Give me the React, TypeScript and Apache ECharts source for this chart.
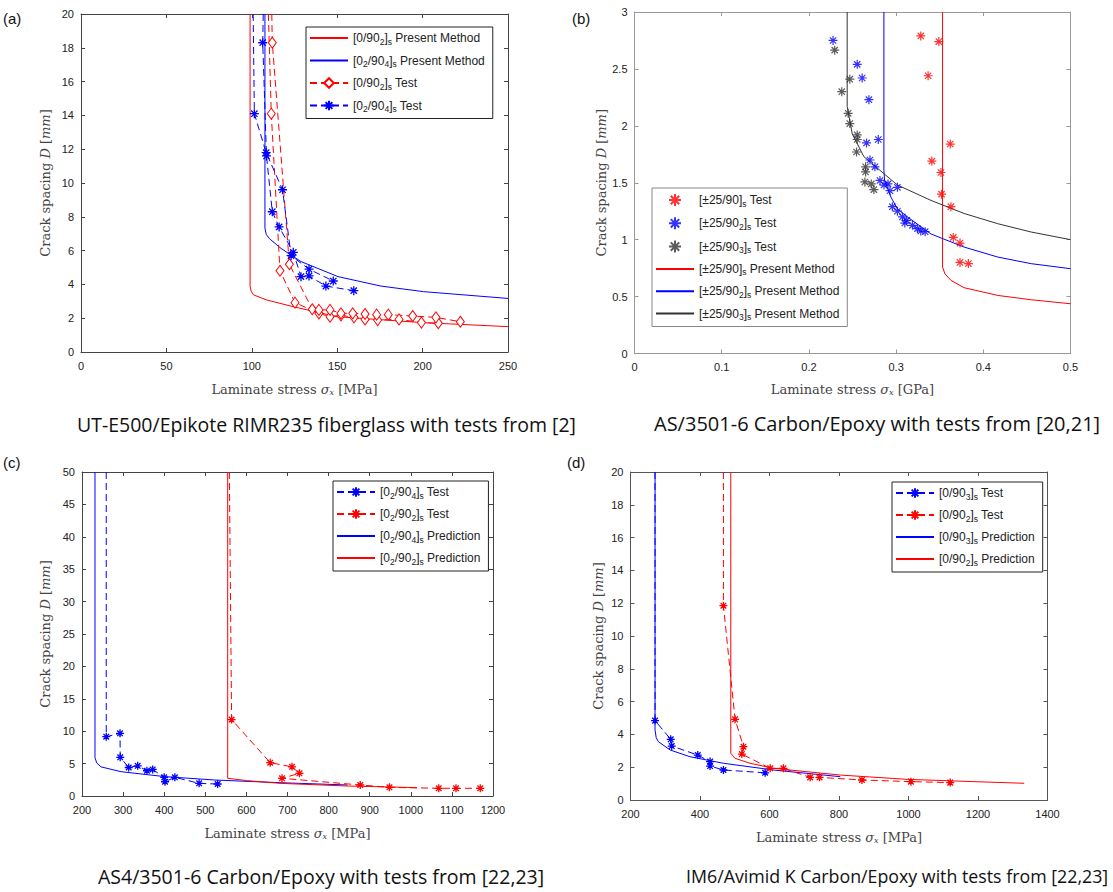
import React, { useEffect, useRef } from "react";
import * as echarts from "echarts";

// ---------- Panel (a) ----------
const aXTicks = [0, 50, 100, 150, 200, 250];
const aYTicks = [0, 2, 4, 6, 8, 10, 12, 14, 16, 18, 20];
const aRedModel = [[99, 20], [99, 3.9], [99.6, 3.6], [101, 3.38], [108.7, 3.08], [124.3, 2.68], [149.8, 2.09], [200, 1.74], [250, 1.5]];
const aBlueModel = [[107.7, 20], [107.7, 7.32], [108.5, 6.95], [110.4, 6.7], [117.1, 6.13], [128.8, 5.35], [150.5, 4.46], [175.6, 3.9], [200.6, 3.57], [250, 3.17]];
const aRedTest1 = [[109.7, 20], [111.4, 14.1], [116.5, 4.81], [125.3, 2.92], [139.3, 2.29], [145.8, 2.09], [152.2, 2.17], [159.8, 2.05], [166.3, 1.93], [173.7, 1.89], [186.2, 1.93], [199.3, 1.74], [209.2, 1.7]];
const aRedTest2 = [[111.7, 20], [112, 18.3], [122, 5.19], [135.4, 2.53], [139.3, 2.49], [145.8, 2.49], [152.2, 2.29], [159.1, 2.29], [166.3, 2.25], [173.1, 2.21], [179.9, 2.21], [194.2, 2.13], [207.8, 2.05], [222.1, 1.79]];
const aBlueTest1 = [[100.8, 20], [101.5, 14.1], [108.4, 11.8], [118, 9.6], [123, 5.7], [133.5, 4.9], [147.7, 4.2]];
const aBlueTest2 = [[106.7, 20], [106.4, 18.3], [108.6, 11.6], [112, 8.3], [116, 7.4], [124.3, 5.9], [128.8, 4.46], [133.5, 4.5], [143.4, 3.9], [159.7, 3.63]];

// ---------- Panel (b) ----------
const bXTicks = [0, 0.1, 0.2, 0.3, 0.4, 0.5];
const bYTicks = [0, 0.5, 1, 1.5, 2, 2.5, 3];
const bRedModel = [[0.3533, 3], [0.3533, 0.76], [0.356, 0.7], [0.363, 0.642], [0.378, 0.578], [0.4167, 0.51], [0.455, 0.472], [0.5, 0.437]];
const bBlueModel = [[0.286, 3], [0.286, 1.61], [0.2868, 1.52], [0.294, 1.375], [0.3015, 1.27], [0.313, 1.2], [0.34, 1.05], [0.378, 0.935], [0.4167, 0.847], [0.455, 0.789], [0.5, 0.745]];
const bBlackModel = [[0.2439, 3], [0.2439, 2.17], [0.2497, 1.93], [0.263, 1.73], [0.286, 1.58], [0.3015, 1.48], [0.34, 1.345], [0.378, 1.23], [0.4167, 1.14], [0.455, 1.067], [0.5, 1.0]];
const bRedTest = [[0.3283, 2.79], [0.349, 2.74], [0.3367, 2.44], [0.3621, 1.84], [0.341, 1.69], [0.3514, 1.59], [0.3521, 1.4], [0.3629, 1.29], [0.3656, 1.02], [0.3733, 0.97], [0.3733, 0.8], [0.3829, 0.79]];
const bBlueTest = [[0.2277, 2.75], [0.2554, 2.54], [0.2611, 2.42], [0.2688, 2.23], [0.2661, 1.85], [0.2796, 1.88], [0.27, 1.7], [0.2757, 1.64], [0.2815, 1.52], [0.2861, 1.48], [0.2907, 1.49], [0.293, 1.43], [0.3015, 1.46], [0.2957, 1.29], [0.3015, 1.25], [0.3072, 1.2], [0.3122, 1.17], [0.31, 1.146], [0.3188, 1.126], [0.3245, 1.097], [0.3283, 1.076], [0.3333, 1.07]];
const bBlackTest = [[0.2296, 2.665], [0.2469, 2.41], [0.2377, 2.3], [0.245, 2.11], [0.2469, 2.02], [0.2554, 1.92], [0.2554, 1.88], [0.2546, 1.77], [0.265, 1.64], [0.265, 1.595], [0.2642, 1.507], [0.2715, 1.49], [0.2745, 1.44]];

// ---------- Panel (c) ----------
const cXTicks = [200, 300, 400, 500, 600, 700, 800, 900, 1000, 1100, 1200];
const cYTicks = [0, 5, 10, 15, 20, 25, 30, 35, 40, 45, 50];
const cBlueModel = [[231.6, 50], [231.6, 5.9], [236, 5.1], [246, 4.5], [295, 3.75], [400, 3.0], [522, 2.47], [684, 2.05], [846, 1.7]];
const cRedModel = [[554.5, 50], [554.5, 2.73], [603, 2.36], [684, 1.95], [846, 1.54], [1015, 1.29]];
const cBlueTest = [[259, 50], [259, 9.15], [292.5, 9.67], [293, 5.97], [313.6, 4.4], [335.5, 4.66], [358, 3.9], [372, 4.1], [400, 2.88], [402, 2.2], [426, 2.88], [485, 1.95], [530, 1.85]];
const cRedTest = [[558.5, 50], [564, 11.8], [658, 5.14], [711, 4.5], [729, 3.5], [686.6, 2.73], [877, 1.7], [948, 1.34], [1068, 1.19], [1110, 1.19], [1169, 1.19]];

// ---------- Panel (d) ----------
const dXTicks = [200, 400, 600, 800, 1000, 1200, 1400];
const dYTicks = [0, 2, 4, 6, 8, 10, 12, 14, 16, 18, 20];
const dBlueModel = [[270.6, 20], [270.6, 4.27], [274, 3.8], [280, 3.56], [314, 3.05], [371, 2.64], [467, 2.24], [611, 1.83], [804, 1.42]];
const dRedModel = [[488.6, 20], [488.6, 2.85], [501, 2.54], [544, 2.24], [611, 1.93], [804, 1.52], [996, 1.26], [1188, 1.12], [1333, 1.02]];
const dBlueTest = [[270.6, 20], [270.6, 4.84], [315.8, 3.7], [318.7, 3.29], [393.6, 2.74], [429, 2.34], [429, 2.07], [467.4, 1.83], [587.5, 1.66]];
const dRedTest = [[467.4, 20], [467.4, 11.85], [501, 4.92], [525, 3.25], [520.4, 2.8], [602, 1.93], [640, 1.93], [717, 1.38], [744, 1.38], [866, 1.22], [1007, 1.12], [1120, 1.06]];

// ---------- Texts ----------
const captions = [
  "UT-E500/Epikote RIMR235 fiberglass with tests from [2]",
  "AS/3501-6 Carbon/Epoxy with tests from [20,21]",
  "AS4/3501-6 Carbon/Epoxy with tests from [22,23]",
  "IM6/Avimid K Carbon/Epoxy with tests from [22,23]",
];
const panelLetters = ["(a)", "(b)", "(c)", "(d)"];
const legendLabels: Record<string, string> = {
  a_pm_r: "[0/90{s|2}]{s|s} Present Method",
  a_pm_b: "[0{s|2}/90{s|4}]{s|s} Present Method",
  a_t_r: "[0/90{s|2}]{s|s} Test",
  a_t_b: "[0{s|2}/90{s|4}]{s|s} Test",
  b_t_r: "[±25/90]{s|s} Test",
  b_t_b: "[±25/90{s|2}]{s|s} Test",
  b_t_k: "[±25/90{s|3}]{s|s} Test",
  b_pm_r: "[±25/90]{s|s} Present Method",
  b_pm_b: "[±25/90{s|2}]{s|s} Present Method",
  b_pm_k: "[±25/90{s|3}]{s|s} Present Method",
  c_t_b: "[0{s|2}/90{s|4}]{s|s} Test",
  c_t_r: "[0{s|2}/90{s|2}]{s|s} Test",
  c_p_b: "[0{s|2}/90{s|4}]{s|s} Prediction",
  c_p_r: "[0{s|2}/90{s|2}]{s|s} Prediction",
  d_t_b: "[0/90{s|3}]{s|s} Test",
  d_t_r: "[0/90{s|2}]{s|s} Test",
  d_p_b: "[0/90{s|3}]{s|s} Prediction",
  d_p_r: "[0/90{s|2}]{s|s} Prediction",
};
const lineOnlyEntries = ["a_pm_r", "a_pm_b", "b_pm_r", "b_pm_b", "b_pm_k", "c_p_b", "c_p_r", "d_p_b", "d_p_r"];

const RED = "#ff0000";
const BLUE = "#0000ff";
const BLACK = "#333333";
const STAR = "path://M5,0L5,10M0,5L10,5M1.5,1.5L8.5,8.5M1.5,8.5L8.5,1.5";
const SERIF = "DejaVu Serif";
const SANS = "Liberation Sans";

type Pt = number[];

function withTopNoSymbol(pts: Pt[], top: number) {
  return pts.map((p) => (p[1] >= top ? { value: p, symbol: "none" } : p));
}

function App() {
  const ref = useRef<HTMLDivElement>(null);
  useEffect(() => {
    if (!ref.current) return;
    const chart = echarts.init(ref.current, null, { renderer: "svg" });

    const grids = [
      { left: 81, top: 14, width: 427, height: 338 },
      { left: 634.5, top: 12, width: 436, height: 341.5 },
      { left: 82, top: 472, width: 411, height: 324 },
      { left: 630.5, top: 472, width: 417, height: 328 },
    ];
    const frameColors = ["#444", "#999", "#444", "#555"];
    const xTicks = [aXTicks, bXTicks, cXTicks, dXTicks];
    const yTicks = [aYTicks, bYTicks, cYTicks, dYTicks];
    const units = ["MPa", "GPa", "MPa", "MPa"];
    const yGaps = [29, 27, 30, 26];
    const xGaps = [30, 29, 30, 30];

    const xAxes: any[] = [];
    const yAxes: any[] = [];
    const rng = (t: number[]) => ({ min: t[0], max: t[t.length - 1], interval: t[1] - t[0] });
    const fmt = (v: number) => String(Math.round(v * 1000) / 1000);
    grids.forEach((g, i) => {
      const col = frameColors[i];
      const base = {
        type: "value",
        gridIndex: i,
        axisLine: { show: true, onZero: false, lineStyle: { color: col, width: 1 } },
        axisTick: { show: true, inside: true, length: 4, lineStyle: { color: col } },
        splitLine: { show: false },
      };
      xAxes.push({
        ...base,
        ...rng(xTicks[i]),
        position: "bottom",
        axisLabel: { fontFamily: SANS, fontSize: 11, color: "#222", margin: 8, formatter: fmt },
        name: "Laminate stress {i|σ}{sub|x} [" + units[i] + "]",
        nameLocation: "middle",
        nameGap: xGaps[i],
        nameTextStyle: {
          fontFamily: SERIF, fontSize: 13, color: "#444",
          rich: {
            i: { fontFamily: SERIF, fontSize: 13, fontStyle: "italic", color: "#444" },
            sub: { fontFamily: SERIF, fontSize: 8, fontStyle: "italic", color: "#444", padding: [6, 0, 0, 0] },
          },
        },
      });
      xAxes.push({ ...base, ...rng(xTicks[i]), position: "top", axisLabel: { show: false } });
      yAxes.push({
        ...base,
        ...rng(yTicks[i]),
        position: "left",
        axisLabel: { fontFamily: SANS, fontSize: 11, color: "#222", margin: 7, formatter: fmt },
        name: "Crack spacing {i|D} [{i|mm}]",
        nameLocation: "middle",
        nameRotate: 90,
        nameGap: yGaps[i],
        nameTextStyle: {
          fontFamily: SERIF, fontSize: 13, color: "#444",
          rich: { i: { fontFamily: SERIF, fontSize: 13, fontStyle: "italic", color: "#444" } },
        },
      });
      yAxes.push({ ...base, ...rng(yTicks[i]), position: "right", axisLabel: { show: false } });
    });

    const solid = (name: string, i: number, data: Pt[], color: string, z = 3) => ({
      type: "line", name, xAxisIndex: 2 * i, yAxisIndex: 2 * i, data, symbol: "none",
      lineStyle: { color, width: 1, type: "solid" }, itemStyle: { color }, z, silent: true,
    });
    const dashed = (name: string, i: number, data: Pt[], color: string, top: number, symbol: string, size: any, hollow = false) => ({
      type: "line", name, xAxisIndex: 2 * i, yAxisIndex: 2 * i, data: withTopNoSymbol(data, top),
      symbol, symbolSize: size, showSymbol: true,
      lineStyle: { color, width: 1, type: [7, 4] },
      itemStyle: hollow
        ? { color: "#fff", borderColor: color, borderWidth: 1 }
        : { color, borderColor: color, borderWidth: 1.3 },
      z: 4, silent: true,
    });
    const scat = (name: string, i: number, data: Pt[], color: string) => ({
      type: "scatter", name, xAxisIndex: 2 * i, yAxisIndex: 2 * i, data, symbol: STAR, symbolSize: 9,
      itemStyle: { color, borderColor: color, borderWidth: 1.2 }, z: 4, silent: true,
    });

    const series = [
      solid("a_pm_r", 0, aRedModel, RED),
      solid("a_pm_b", 0, aBlueModel, BLUE),
      dashed("a_t_r", 0, aRedTest1, RED, 20, "diamond", [8, 11], true),
      dashed("a_t_r", 0, aRedTest2, RED, 20, "diamond", [8, 11], true),
      dashed("a_t_b", 0, aBlueTest1, BLUE, 20, STAR, 9),
      dashed("a_t_b", 0, aBlueTest2, BLUE, 20, STAR, 9),

      scat("b_t_r", 1, bRedTest, RED),
      scat("b_t_b", 1, bBlueTest, BLUE),
      scat("b_t_k", 1, bBlackTest, BLACK),
      solid("b_pm_r", 1, bRedModel, RED),
      solid("b_pm_b", 1, bBlueModel, BLUE),
      solid("b_pm_k", 1, bBlackModel, BLACK),

      dashed("c_t_b", 2, cBlueTest, BLUE, 50, STAR, 8),
      dashed("c_t_r", 2, cRedTest, RED, 50, STAR, 8),
      solid("c_p_b", 2, cBlueModel, BLUE),
      solid("c_p_r", 2, cRedModel, RED),

      dashed("d_t_b", 3, dBlueTest, BLUE, 20, STAR, 8),
      dashed("d_t_r", 3, dRedTest, RED, 20, STAR, 8),
      solid("d_p_b", 3, dBlueModel, BLUE),
      solid("d_p_r", 3, dRedModel, RED),
    ];

    const legendText = {
      fontFamily: SANS, fontSize: 12, color: "#222",
      rich: { s: { fontFamily: SANS, fontSize: 8.5, color: "#222", padding: [7, 0, 0, 0] } },
    };
    const mkLegend = (names: string[], left: number, top: number, border: string, gap: number, iw = 38) => ({
      orient: "vertical", left, top, selectedMode: false,
      data: names.map((n) =>
        lineOnlyEntries.includes(n) ? { name: n, itemStyle: { opacity: 0 } } : { name: n }
      ),
      formatter: (n: string) => legendLabels[n] || n,
      textStyle: legendText, itemWidth: iw, itemHeight: 12, itemGap: gap,
      padding: [5, 8, 5, 3], borderColor: border, borderWidth: 1, backgroundColor: "#fff",
    });

    const legend = [
      mkLegend(["a_pm_r", "a_pm_b", "a_t_r", "a_t_b"], 306, 27, "#222", 8.5),
      mkLegend(["b_t_r", "b_t_b", "b_t_k", "b_pm_r", "b_pm_b", "b_pm_k"], 652, 188, "#888", 8.3),
      mkLegend(["c_t_b", "c_t_r", "c_p_b", "c_p_r"], 333, 481, "#222", 8),
      mkLegend(["d_t_b", "d_t_r", "d_p_b", "d_p_r"], 892, 482, "#222", 8),
    ];

    const capPos = [[77, 424], [654, 423], [98, 876], [686, 876]];
    const capSize = [19.5, 20, 19.5, 17.8];
    const letterPos = [[3, 18], [572, 18], [3, 462], [567, 462]];
    const graphic: any[] = [];
    captions.forEach((c, i) => {
      graphic.push({
        type: "text", x: capPos[i][0], y: capPos[i][1], silent: true,
        style: { text: c, fontFamily: "Open Sans", fontSize: capSize[i], fill: "#111", align: "left", verticalAlign: "middle" },
      });
    });
    panelLetters.forEach((t, i) => {
      graphic.push({
        type: "text", x: letterPos[i][0], y: letterPos[i][1], silent: true,
        style: { text: t, fontFamily: SANS, fontSize: 15, fill: "#111", align: "left", verticalAlign: "middle" },
      });
    });

    chart.setOption({
      animation: false,
      backgroundColor: "#fff",
      grid: grids,
      xAxis: xAxes,
      yAxis: yAxes,
      series,
      legend,
      graphic,
    });
    return () => chart.dispose();
  }, []);
  return <div ref={ref} style={{ position: "absolute", left: 0, top: 0, width: 1113, height: 892 }} />;
}

export default App;
